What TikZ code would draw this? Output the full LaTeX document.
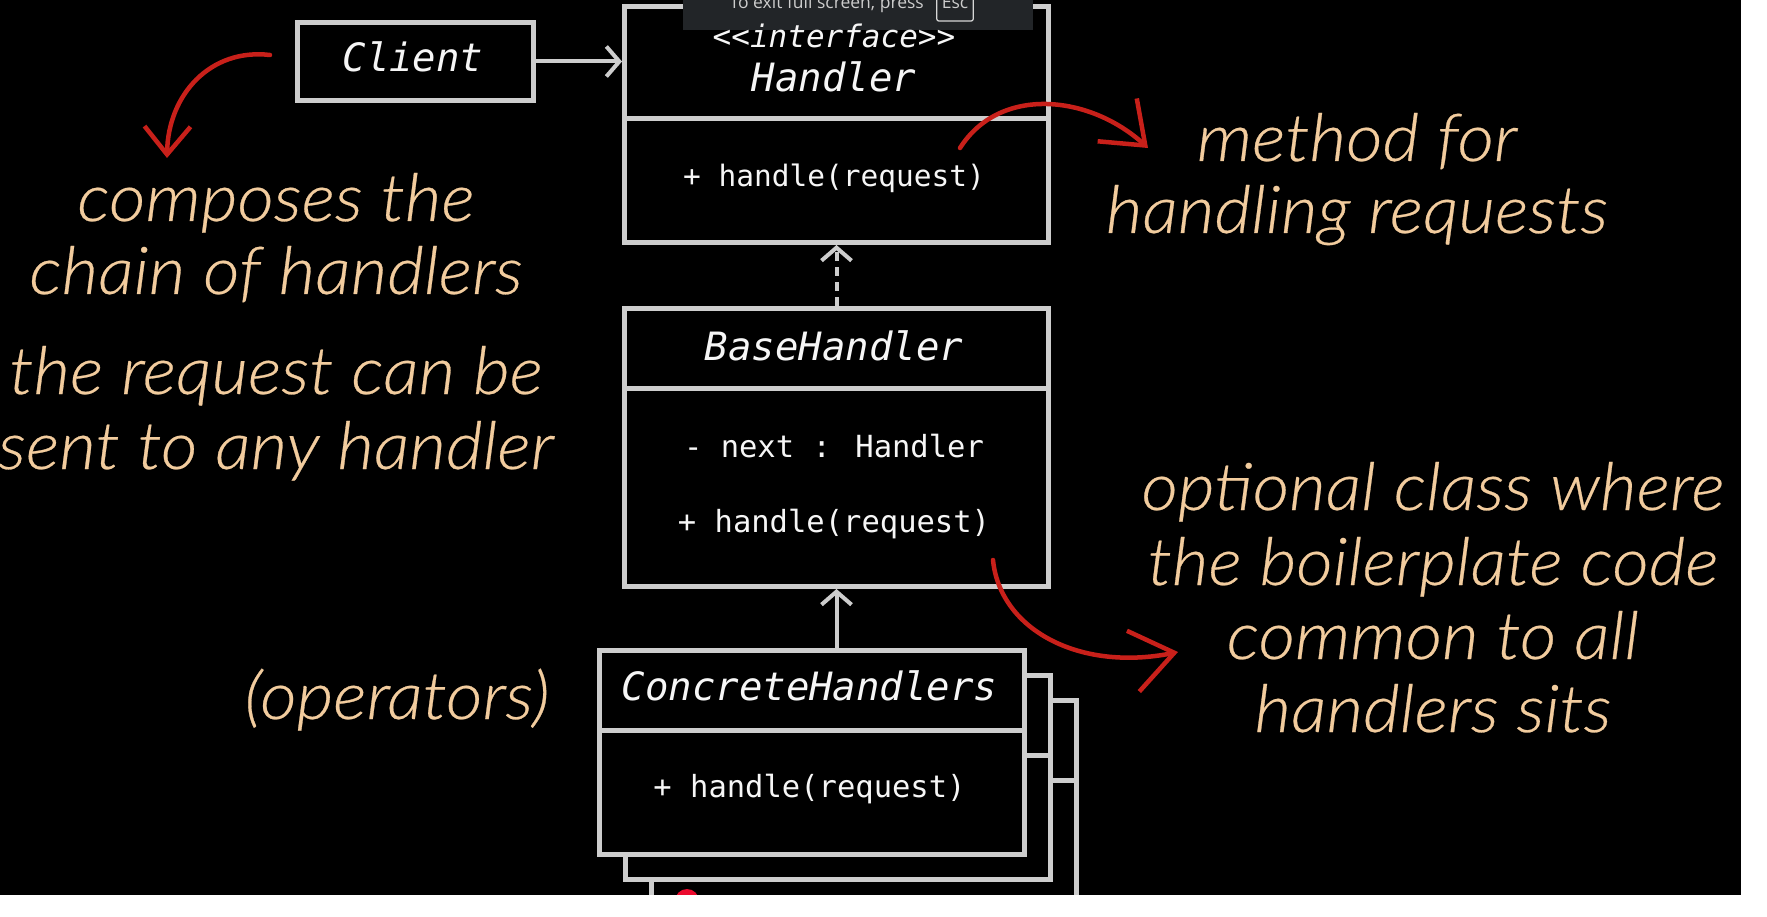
\documentclass[tikz,border=0pt]{standalone}
\usepackage{fontspec}
\usetikzlibrary{arrows.meta}
\newfontfamily\monofont{DejaVu Sans Mono}[ItalicFont={DejaVu Sans Mono Oblique}]
\newfontfamily\annofont{Lato Light Italic}[FakeStretch=1.075,FakeBold=0.4]
\newfontfamily\uifont{Open Sans}
\definecolor{boxgray}{RGB}{205,205,205}
\definecolor{textwhite}{RGB}{246,246,246}
\definecolor{annocol}{RGB}{242,204,158}
\definecolor{annred}{RGB}{200,32,26}
\definecolor{overlaygray}{RGB}{34,37,40}
\definecolor{dotred}{RGB}{235,10,45}
\begin{document}
\begin{tikzpicture}[x=1pt,y=-1pt,
  boxpart/.style={draw=boxgray, line width=5pt, fill=black, inner sep=0pt, anchor=north west},
  titletext/.style={text=textwhite, font=\monofont\itshape\fontsize{39}{39}\selectfont, anchor=base, inner sep=0pt},
  stereotext/.style={text=textwhite, font=\monofont\itshape\fontsize{31}{31}\selectfont, anchor=base, inner sep=0pt},
  membertext/.style={text=textwhite, font=\monofont\fontsize{30.5}{30.5}\selectfont, anchor=base, inner sep=0pt},
  annotext/.style={text=annocol, font=\annofont\fontsize{66}{66}\selectfont, anchor=base, inner sep=0pt},
  grayarrow/.style={draw=boxgray, line width=4pt, -{Straight Barb[length=13pt,width=30pt]}},
  redarrow/.style={draw=annred, line width=4.5pt, line cap=round},
  uitext/.style={text=boxgray, font=\uifont\fontsize{17.5}{17.5}\selectfont, inner sep=0pt}
]
\useasboundingbox (0,0) rectangle (1767,917);
\fill[black] (0,0) rectangle (1767,917);

% Client
\node[boxpart, minimum width=236, minimum height=78] (client) at (295,20) {};
\node[titletext] (clientlbl) at (413,72) {Client};

% Handler interface
\node[boxpart, minimum width=424, minimum height=112] (ht) at (622,4) {};
\node[boxpart, minimum width=424, minimum height=124] (hb) at (622,116) {};
\node[titletext] (hname) at (834,92) {Handler};
\node[membertext, font=\monofont\fontsize{29.5}{29.5}\selectfont] (hm) at (834,187) {+ handle(request)};

% BaseHandler
\node[boxpart, minimum width=424, minimum height=80] (bt) at (622,306) {};
\node[boxpart, minimum width=424, minimum height=198] (bb) at (622,386) {};
\node[titletext] (bname) at (834,360) {BaseHandler};
\node[membertext] (bnext) at (834,457) {- next : Handler};
\node[membertext] (bm) at (834,532) {+ handle(request)};

% ConcreteHandlers stack
\node[boxpart, minimum width=425, minimum height=80] (c3t) at (649,698) {};
\node[boxpart, minimum width=425, minimum height=124] (c3b) at (649,778) {};
\node[boxpart, minimum width=425, minimum height=80] (c2t) at (623,673) {};
\node[boxpart, minimum width=425, minimum height=124] (c2b) at (623,753) {};
\node[boxpart, minimum width=425, minimum height=80] (c1t) at (597,648) {};
\node[boxpart, minimum width=425, minimum height=124] (c1b) at (597,728) {};
\node[titletext] (cname) at (809.5,700) {ConcreteHandlers};
\node[membertext] (cm) at (809.5,797) {+ handle(request)};

% gray connectors
\draw[grayarrow] (client.east) -- (ht.west |- client.east);
\draw[grayarrow, dash pattern=on 9pt off 6pt] (bt.north) -- (hb.south);
\draw[grayarrow] (c1t.north -| bt.south) -- (bb.south);

% annotations
\node[annotext] (a1) at (276,221) {composes the};
\node[annotext] (a2) at (276,294) {chain of handlers};
\node[annotext] (a3) at (276,394) {the request can be};
\node[annotext] (a4) at (276,469) {sent to any handler};
\node[annotext] (a5) at (397,719) {(operators)};
\node[annotext] (a6) at (1357,161) {method for};
\node[annotext] (a7) at (1357,233) {handling requests};
\node[annotext] (a8) at (1433,510) {optional class where};
\node[annotext] (a9) at (1433,585) {the boilerplate code};
\node[annotext] (a10) at (1433,659) {common to all};
\node[annotext] (a11) at (1433,732) {handlers sits};

% red arrows
\coordinate (r1s) at (270,55);
\coordinate (r1e) at (167,158);
\draw[redarrow, -{Straight Barb[length=28pt,width=46pt]}] (r1s) .. controls (210,48) and (168,95) .. (r1e);
\coordinate (r2s) at (960,148);
\coordinate (r2e) at (1148,148);
\draw[redarrow, -{Straight Barb[length=38pt,width=58pt]}] (r2s) .. controls (1000,85) and (1090,95) .. (r2e);
\coordinate (r3s) at (993,560);
\coordinate (r3e) at (1178,652);
\draw[redarrow, -{Straight Barb[length=42pt,width=62pt]}] (r3s) .. controls (1000,630) and (1080,672) .. (r3e);

% full-screen overlay
\fill[overlaygray] (683,-2) rectangle (1033,30);
\node[uitext, anchor=base east] (exitmsg) at (924,9) {To exit full screen, press};
\node[draw=boxgray!80, line width=1.2pt, rounded corners=2pt, inner xsep=5pt, inner ysep=0pt, text depth=12pt, text=boxgray, font=\uifont\fontsize{17.5}{17.5}\selectfont, anchor=base] (esckey) at (955,9) {Esc};

% stereotype shows above the overlay edge
\node[stereotext] (stereo) at (834,48) {<{}<interface>{}>};

% red dot
\fill[dotred] (687,901) circle (12);

% white margins
\fill[white] (1741,0) rectangle (1767,917);
\fill[white] (0,895) rectangle (1767,917);
\end{tikzpicture}
\end{document}
